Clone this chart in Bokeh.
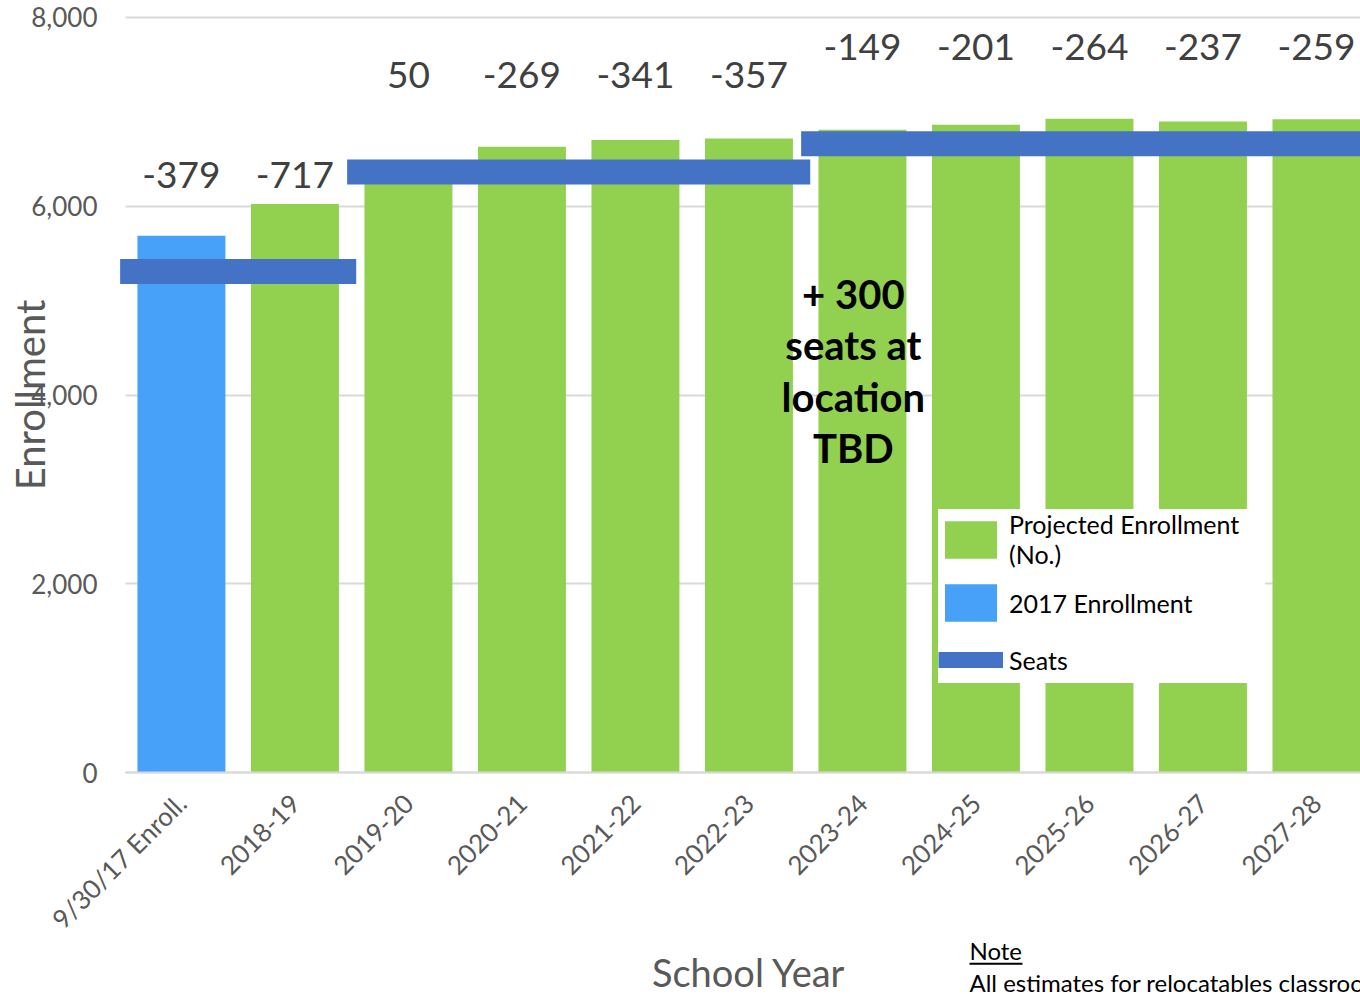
from bokeh.plotting import figure
from bokeh.models import (Range1d, FixedTicker, NumeralTickFormatter, ColumnDataSource,
                          Legend, LegendItem, Label, BoxAnnotation)
from bokeh.core.properties import value
from bokeh.embed import file_html
from bokeh.resources import INLINE
import math

# ---------------- data ----------------
school_years = ["9/30/17 Enroll.", "2018-19", "2019-20", "2020-21", "2021-22", "2022-23",
                "2023-24", "2024-25", "2025-26", "2026-27", "2027-28"]
enrollment = [5687, 6025, 6312, 6631, 6703, 6719, 6811, 6863, 6926, 6899, 6921]
seats = [5308, 5308, 6362, 6362, 6362, 6362, 6662, 6662, 6662, 6662, 6662]
seat_gap = [-379, -717, 50, -269, -341, -357, -149, -201, -264, -237, -259]
y_ticks = [0, 2000, 4000, 6000, 8000]
annotation_text = "+ 300\nseats at\nlocation\nTBD"
x_title = "School Year"
y_title = "Enrollment"
note_title = "Note"
note_text = "All estimates for relocatables classrooms"

FONT = "Lato"
GREEN = "#92D050"
BLUE = "#47A1F9"
SEAT = "#4472C4"
GREY_TXT = "#595959"

idx = list(range(len(school_years)))
X_LO, X_HI = -0.493, 10.388          # visible category span of the plotting area

# the frame covers the whole canvas so that the texts around the axes stay visible
p = figure(width=1360, height=994, output_backend="svg", toolbar_location=None,
           x_range=Range1d(-1.594, X_HI), y_range=Range1d(-2352, 8180),
           min_border_left=0, min_border_top=0, min_border_right=0, min_border_bottom=0)
p.outline_line_color = None
p.background_fill_color = "white"

# bars
src_2017 = ColumnDataSource(dict(x=idx[:1], top=enrollment[:1]))
src_proj = ColumnDataSource(dict(x=idx[1:], top=enrollment[1:]))
r_2017 = p.vbar(x="x", top="top", width=0.775, source=src_2017, fill_color=BLUE, line_color=None)
r_proj = p.vbar(x="x", top="top", width=0.775, source=src_proj, fill_color=GREEN, line_color=None)

# seats: group consecutive equal values into horizontal bands
x0s, x1s, ys = [], [], []
start = 0
for i in range(1, len(seats) + 1):
    if i == len(seats) or seats[i] != seats[start]:
        x0s.append(start - 0.54)
        x1s.append(i - 1 + 0.54)
        ys.append(seats[start])
        start = i
seat_src = ColumnDataSource(dict(x0=x0s, x1=x1s, y=ys))
p.segment(x0="x0", y0="y", x1="x1", y1="y", source=seat_src, line_color=SEAT,
          line_width=25, line_cap="butt")
nan = float("nan")
seat_legend = p.segment(x0=[nan], y0=[nan], x1=[nan], y1=[nan], line_color=SEAT,
                        line_width=16, line_cap="butt")

# gap labels above seat bands
lab_src = ColumnDataSource(dict(x=idx, y=seats, t=[str(v) for v in seat_gap]))
p.text(x="x", y="y", text="t", source=lab_src, y_offset=-97, text_align="center",
       text_baseline="middle", text_font=value(FONT), text_font_size="37px", text_color="#404040")

# annotation
p.text(x=[5.92], y=[4255], text=[annotation_text], text_align="center", text_baseline="middle",
       text_font=value(FONT), text_font_style="bold", text_font_size="40px",
       text_color="black", text_line_height=1.07)

# x axis pinned at y=0
p.xaxis.fixed_location = 0
p.xaxis.bounds = (X_LO, X_HI)
p.xaxis.ticker = FixedTicker(ticks=idx)
p.xaxis.major_label_overrides = {i: s for i, s in zip(idx, school_years)}
p.xaxis.major_label_orientation = math.pi / 4
p.xaxis.major_label_text_font = FONT
p.xaxis.major_label_text_font_size = "26px"
p.xaxis.major_label_text_color = GREY_TXT
p.xaxis.major_tick_line_color = None
p.xaxis.minor_tick_line_color = None
p.xaxis.axis_line_color = "#D9D9D9"
p.xaxis.axis_line_width = 2
p.xaxis.major_label_standoff = 20

# y axis pinned at the left edge of the category span
p.yaxis.fixed_location = X_LO
p.yaxis.bounds = (0, 8000)
p.yaxis.ticker = FixedTicker(ticks=y_ticks)
p.yaxis.formatter = NumeralTickFormatter(format="0,0")
p.yaxis.major_label_text_font = FONT
p.yaxis.major_label_text_font_size = "26px"
p.yaxis.major_label_text_color = GREY_TXT
p.yaxis.major_tick_line_color = None
p.yaxis.major_tick_out = 0
p.yaxis.minor_tick_line_color = None
p.yaxis.axis_line_color = None
p.yaxis.major_label_standoff = 28

p.xgrid.grid_line_color = None
g = p.ygrid[0]
g.ticker = FixedTicker(ticks=y_ticks)
g.grid_line_color = "#D9D9D9"
g.grid_line_width = 2
if "cross_bounds" in g.properties():
    g.cross_bounds = (X_LO, X_HI)

# axis titles
p.add_layout(Label(x=-1.33, y=4000, text=y_title, angle=math.pi / 2, text_align="center",
                   text_baseline="middle", text_font=FONT, text_font_size="40px",
                   text_color=GREY_TXT))
p.add_layout(Label(x=5.0, y=-2112, text=x_title, text_align="center", text_baseline="middle",
                   text_font=FONT, text_font_size="38px", text_color=GREY_TXT))

# legend
legend = Legend(items=[LegendItem(label="Projected Enrollment    \n(No.)", renderers=[r_proj]),
                       LegendItem(label="2017 Enrollment", renderers=[r_2017]),
                       LegendItem(label="Seats", renderers=[seat_legend])],
                location=(938, 311), glyph_width=65, glyph_height=47, spacing=10,
                padding=9, label_standoff=6, label_text_font=FONT,
                label_text_font_size="25px", label_text_color="black",
                border_line_color=None, background_fill_color="white", background_fill_alpha=1.0)
p.add_layout(legend)

# note below the axis
p.add_layout(Label(x=6.943, y=-1886, text=note_title, text_font=FONT, text_font_size="24px",
                   text_color="black", text_baseline="middle"))
p.add_layout(BoxAnnotation(left=6.943, right=7.41, bottom=-2036, top=-2015,
                           fill_color="black", fill_alpha=1.0, line_color=None))
p.add_layout(Label(x=6.943, y=-2225, text=note_text, text_font=FONT, text_font_size="24px",
                   text_color="black", text_baseline="middle"))

open("out.html", "w").write(file_html(p, INLINE))
